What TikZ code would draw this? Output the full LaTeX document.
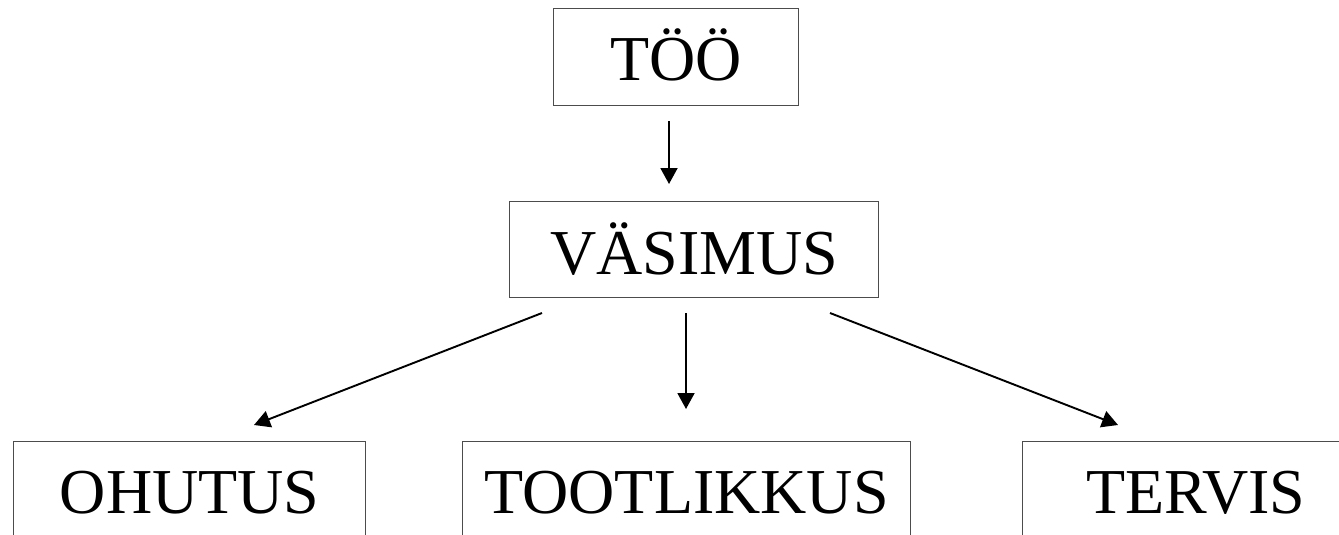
\documentclass[tikz,border=0pt]{standalone}
\usepackage{fontspec}
\setmainfont{Liberation Serif}
\usetikzlibrary{arrows.meta}
\begin{document}
\begin{tikzpicture}[x=1pt,y=-1pt,
  box/.style={draw=black!70, line width=1.2pt, inner xsep=0pt, inner ysep=0pt,
    anchor=north west, font=\fontsize{64}{70}\selectfont},
  conn/.style={line width=1.9pt, -{Triangle[length=16pt,width=17pt]}}]
\useasboundingbox (0,0) rectangle (1339,535);
\clip (0,0) rectangle (1339,535);
\node[box, minimum width=245pt, text height=72pt, text depth=25pt] (too) at (553,8) {TÖÖ\hspace{7pt}};
\node[box, minimum width=369pt, text height=73pt, text depth=23pt] (vas) at (509,201) {VÄSIMUS\hspace{15pt}};
\node[box, minimum width=352pt, text height=72pt, text depth=40pt] (ohu) at (13,441) {OHUTUS\hspace{25pt}};
\node[box, minimum width=448pt, text height=72pt, text depth=40pt] (too2) at (462,441) {TOOTLIKKUS\hspace{24pt}};
\node[box, minimum width=347pt, text height=72pt, text depth=40pt] (ter) at (1022,441) {TERVIS};
\coordinate (a1s) at (669,121); \coordinate (a1e) at (669,184);
\coordinate (a2s) at (686,313); \coordinate (a2e) at (686,409);
\coordinate (a3s) at (542,313); \coordinate (a3e) at (254,425);
\coordinate (a4s) at (830,313); \coordinate (a4e) at (1118,425);
\draw[conn] (a1s) -- (a1e);
\draw[conn] (a2s) -- (a2e);
\draw[conn] (a3s) -- (a3e);
\draw[conn] (a4s) -- (a4e);
\end{tikzpicture}
\end{document}
